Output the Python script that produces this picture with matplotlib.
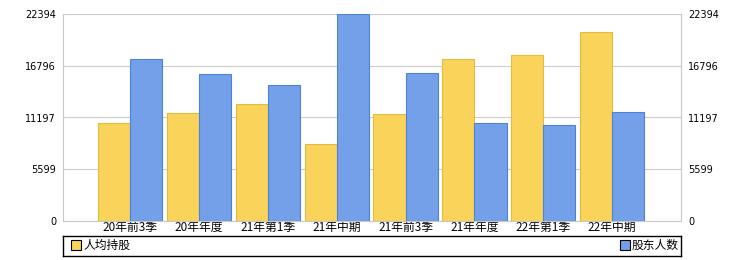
import matplotlib
matplotlib.use("Agg")
import matplotlib.pyplot as plt
from matplotlib.patches import Patch
import numpy as np

categories = ["20年前3季", "20年年度", "21年第1季", "21年中期", "21年前3季", "21年年度", "22年第1季", "22年中期"]
per_capita = [10568, 11653, 12629, 8289, 11544, 17512, 17946, 20441]
holders = [17512, 15884, 14691, 22394, 15993, 10568, 10351, 11761]
yticks = [0, 5599, 11197, 16796, 22394]
series_names = ["人均持股", "股东人数"]

W, H = 733, 260
fig = plt.figure(figsize=(W / 100, H / 100), dpi=100)
L, R, T, B = 63, 681, 14.3, 220.7
ax = fig.add_axes([L / W, 1 - B / H, (R - L) / W, (B - T) / H])

cjk = ['Noto Sans CJK SC', 'DejaVu Sans']
yellow, yellow_e = "#F9D35A", "#E2BC3C"
blue, blue_e = "#74A0EA", "#4C82D8"

x = np.arange(len(categories))
w = 0.466
ax.bar(x - w / 2, per_capita, w, color=yellow, edgecolor=yellow_e, linewidth=0.8, zorder=3)
ax.bar(x + w / 2, holders, w, color=blue, edgecolor=blue_e, linewidth=0.8, zorder=3)

ax.set_xlim(-0.975, 8.0)
ax.set_ylim(0, yticks[-1])
ax.set_yticks(yticks)
ax.set_yticklabels([str(v) for v in yticks], fontsize=7, family='DejaVu Sans')
ax.yaxis.grid(True, color="#CCCCCC", linewidth=0.8, zorder=0)
ax.tick_params(axis='y', length=0, pad=5, labelright=True, right=False)
ax.set_xticks(x)
ax.set_xticklabels(categories, fontsize=8.5, family=cjk)
ax.tick_params(axis='x', length=0, pad=0)
for s in ['left', 'right', 'bottom']:
    ax.spines[s].set_color("#C8C8C8")
    ax.spines[s].set_linewidth(0.8)
ax.spines['top'].set_visible(False)

# legend box
lax = fig.add_axes([L / W, 1 - 255.5 / H, (R - L) / W, (255.5 - 236) / H])
lax.set_xticks([]); lax.set_yticks([])
for s in lax.spines.values():
    s.set_color("black"); s.set_linewidth(1)
h1 = Patch(facecolor=yellow, edgecolor="black", linewidth=0.8)
h2 = Patch(facecolor=blue, edgecolor="black", linewidth=0.8)
kw = dict(frameon=False, prop={'family': cjk, 'size': 8.5}, handlelength=0.85,
          handleheight=0.85, handletextpad=0.15, borderpad=0.0)
leg1 = lax.legend([h1], [series_names[0]], loc='center left', borderaxespad=0.7, **kw)
lax.add_artist(leg1)
lax.legend([h2], [series_names[1]], loc='center right', borderaxespad=0.2, **kw)

fig.savefig("out.png", dpi=100)
